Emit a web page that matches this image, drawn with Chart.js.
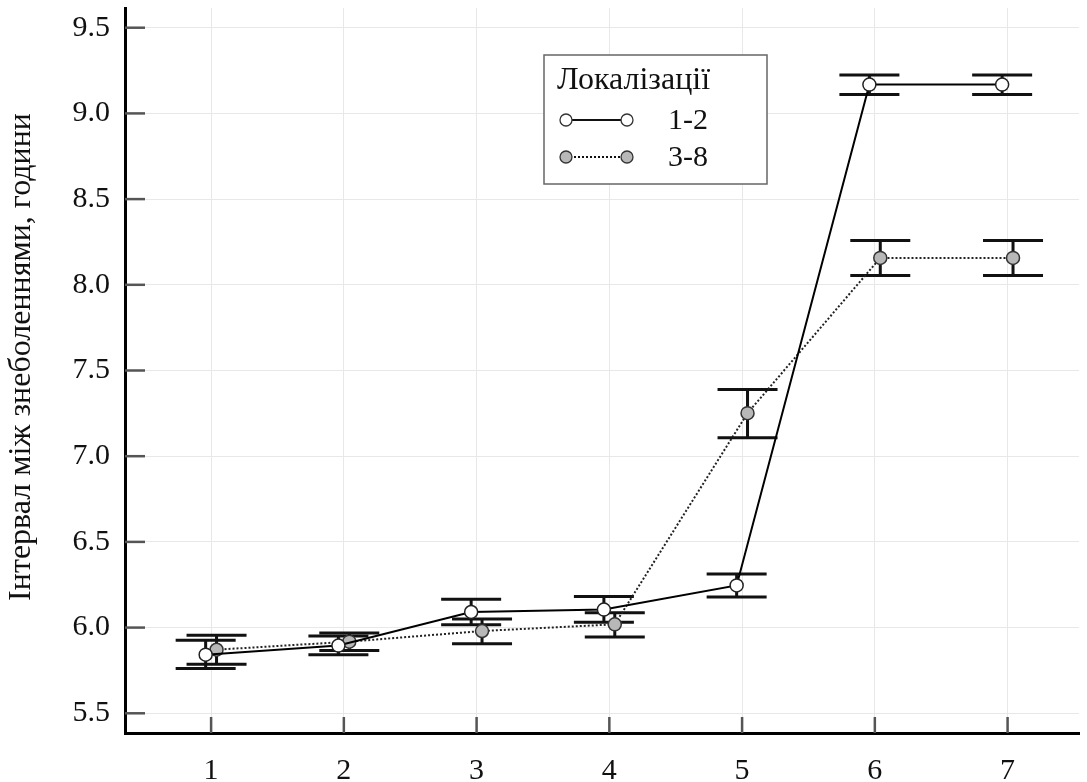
<!DOCTYPE html>
<html lang="uk">
<head>
    <meta charset="UTF-8">
    <title>Інтервал між знеболеннями</title>
    <script src="https://cdn.jsdelivr.net/npm/chart.js"></script>
    <style>
        html, body {
            margin: 0;
            padding: 0;
            background: #fff;
        }
        #wrap {
            width: 1087px;
            height: 782px;
        }
    </style>
</head>
<body>

<div id="wrap">
    <canvas id="errChart" width="1087" height="782"></canvas>
</div>

<script>
    // categories on the x axis
    const categories = [1, 2, 3, 4, 5, 6, 7];

    // series "1-2" (white markers, solid line)
    const loc12Mean  = [5.842, 5.895, 6.091, 6.105, 6.246, 9.168, 9.168];
    const loc12Upper = [5.926, 5.951, 6.166, 6.182, 6.312, 9.224, 9.224];
    const loc12Lower = [5.761, 5.842, 6.017, 6.031, 6.178, 9.111, 9.111];

    // series "3-8" (grey markers, dotted line)
    const loc38Mean  = [5.871, 5.918, 5.980, 6.019, 7.251, 8.157, 8.157];
    const loc38Upper = [5.955, 5.968, 6.050, 6.087, 7.389, 8.258, 8.258];
    const loc38Lower = [5.786, 5.867, 5.906, 5.945, 7.108, 8.054, 8.054];

    const yTicks = [5.5, 6.0, 6.5, 7.0, 7.5, 8.0, 8.5, 9.0, 9.5];

    const yTitle = 'Інтервал між знеболеннями, години';
    const legendTitle = 'Локалізації';
    const seriesNames = ['1-2', '3-8'];

    const SERIF = '"Liberation Serif", "DejaVu Serif", serif';
    const DODGE = 0.041;   // horizontal shift of the two series around each category

    function toPoints(means, shift) {
        return categories.map((c, i) => ({ x: c + shift, y: means[i] }));
    }

    // error bars drawn under the lines and markers
    const errorBars = {
        id: 'errorBars',
        beforeDatasetsDraw(chart) {
            const ctx = chart.ctx;
            const xs = chart.scales.x, ys = chart.scales.y;
            const sets = [
                { shift: -DODGE, lo: loc12Lower, hi: loc12Upper },
                { shift: DODGE, lo: loc38Lower, hi: loc38Upper }
            ];
            ctx.save();
            ctx.strokeStyle = '#111';
            ctx.lineWidth = 3;
            sets.forEach(s => {
                categories.forEach((c, i) => {
                    const px = xs.getPixelForValue(c + s.shift);
                    const top = ys.getPixelForValue(s.hi[i]);
                    const bot = ys.getPixelForValue(s.lo[i]);
                    ctx.beginPath();
                    ctx.moveTo(px, top);
                    ctx.lineTo(px, bot);
                    ctx.moveTo(px - 30, top);
                    ctx.lineTo(px + 30, top);
                    ctx.moveTo(px - 30, bot);
                    ctx.lineTo(px + 30, bot);
                    ctx.stroke();
                });
            });
            ctx.restore();
        }
    };

    // inward tick marks, the y title and the legend box
    const extras = {
        id: 'extras',
        afterDraw(chart) {
            const ctx = chart.ctx;
            const xs = chart.scales.x, ys = chart.scales.y;
            const area = chart.chartArea;
            ctx.save();
            ctx.strokeStyle = '#555';
            ctx.lineWidth = 2.5;
            yTicks.forEach(v => {
                const py = ys.getPixelForValue(v);
                ctx.beginPath();
                ctx.moveTo(area.left, py);
                ctx.lineTo(area.left + 20, py);
                ctx.stroke();
            });
            categories.forEach(c => {
                const px = xs.getPixelForValue(c);
                ctx.beginPath();
                ctx.moveTo(px, area.bottom);
                ctx.lineTo(px, area.bottom - 16);
                ctx.stroke();
            });

            // rotated axis title
            ctx.save();
            ctx.translate(22, 357);
            ctx.rotate(-Math.PI / 2);
            ctx.fillStyle = '#111';
            ctx.font = '32px ' + SERIF;
            ctx.textAlign = 'center';
            ctx.textBaseline = 'middle';
            ctx.fillText(yTitle, 0, 0);
            ctx.restore();

            // legend
            const bx = 544, by = 55, bw = 223, bh = 129;
            ctx.fillStyle = '#fff';
            ctx.fillRect(bx, by, bw, bh);
            ctx.strokeStyle = '#666';
            ctx.lineWidth = 1.5;
            ctx.strokeRect(bx, by, bw, bh);

            ctx.fillStyle = '#111';
            ctx.font = '32px ' + SERIF;
            ctx.textBaseline = 'middle';
            ctx.textAlign = 'left';
            ctx.fillText(legendTitle, 557, 81);

            const rows = [
                { y: 120, dash: [], fill: '#fff', label: seriesNames[0] },
                { y: 157, dash: [2, 2], fill: '#b8b8b8', label: seriesNames[1] }
            ];
            rows.forEach(r => {
                ctx.strokeStyle = '#111';
                ctx.lineWidth = 2;
                ctx.setLineDash(r.dash);
                ctx.beginPath();
                ctx.moveTo(566, r.y);
                ctx.lineTo(627, r.y);
                ctx.stroke();
                ctx.setLineDash([]);
                [566, 627].forEach(cx => {
                    ctx.beginPath();
                    ctx.arc(cx, r.y, 6, 0, Math.PI * 2);
                    ctx.fillStyle = r.fill;
                    ctx.fill();
                    ctx.lineWidth = 1.3;
                    ctx.strokeStyle = '#333';
                    ctx.stroke();
                });
                ctx.fillStyle = '#111';
                ctx.font = '30px ' + SERIF;
                ctx.fillText(r.label, 668, r.y + 1);
            });
            ctx.restore();
        }
    };

    const ctx = document.getElementById('errChart').getContext('2d');
    const chart = new Chart(ctx, {
        type: 'line',
        data: {
            datasets: [
                {
                    label: seriesNames[0],
                    data: toPoints(loc12Mean, -DODGE),
                    borderColor: '#000',
                    borderWidth: 2,
                    pointRadius: 6.5,
                    pointBackgroundColor: '#fff',
                    pointBorderColor: '#222',
                    pointBorderWidth: 1.5,
                    tension: 0,
                    fill: false
                },
                {
                    label: seriesNames[1],
                    data: toPoints(loc38Mean, DODGE),
                    borderColor: '#222',
                    borderWidth: 2,
                    borderDash: [2, 2],
                    pointRadius: 6.5,
                    pointBackgroundColor: '#b8b8b8',
                    pointBorderColor: '#333',
                    pointBorderWidth: 1.5,
                    tension: 0,
                    fill: false
                }
            ]
        },
        options: {
            responsive: false,
            animation: false,
            clip: false,
            layout: { padding: { top: 8, right: 0, left: 0, bottom: 0 } },
            plugins: {
                legend: { display: false },
                tooltip: { enabled: false }
            },
            scales: {
                x: {
                    type: 'linear',
                    min: 0.3514,
                    max: 7.538,
                    afterBuildTicks(scale) {
                        scale.ticks = categories.map(v => ({ value: v }));
                    },
                    afterFit(scale) {
                        scale.height = 49;
                        scale.paddingLeft = 0;
                        scale.paddingRight = 0;
                    },
                    grid: { color: '#e8e8e8', lineWidth: 1, drawTicks: false },
                    border: { display: true, color: '#000', width: 3 },
                    ticks: {
                        padding: 20,
                        color: '#111',
                        font: { family: SERIF, size: 30 },
                        callback: v => String(v)
                    }
                },
                y: {
                    min: 5.385,
                    max: 9.615,
                    afterBuildTicks(scale) {
                        scale.ticks = yTicks.map(v => ({ value: v }));
                    },
                    afterFit(scale) {
                        scale.width = 125;
                        scale.paddingTop = 0;
                        scale.paddingBottom = 0;
                    },
                    grid: { color: '#e8e8e8', lineWidth: 1, drawTicks: false },
                    border: { display: true, color: '#000', width: 3 },
                    ticks: {
                        padding: 15,
                        color: '#111',
                        font: { family: SERIF, size: 30 },
                        callback: v => v.toFixed(1)
                    }
                }
            }
        },
        plugins: [errorBars, extras]
    });
</script>

</body>
</html>
